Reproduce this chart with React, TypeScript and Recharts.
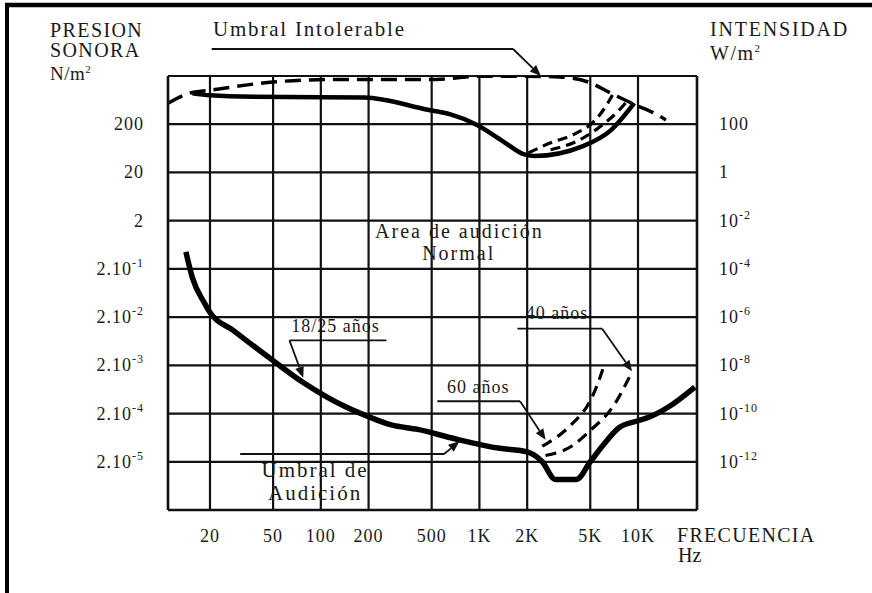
import React from 'react';
import { LineChart, Line, XAxis, YAxis, CartesianGrid, ReferenceLine, ReferenceDot } from 'recharts';

// ---- Axes ----
// Frequency (Hz), logarithmic
const freqTicks = [10.87, 20, 50, 100, 200, 500, 1000, 2000, 5000, 10000, 23550];
const freqTickLabels = ['', '20', '50', '100', '200', '500', '1K', '2K', '5K', '10K', ''];

// Sound pressure (N/m²), logarithmic; intensity (W/m²) on the right
const pressureTicks = [2e-6, 2e-5, 2e-4, 2e-3, 2e-2, 0.2, 2, 20, 200, 2000];
const pressureBase = ['', '2.10', '2.10', '2.10', '2.10', '2.10', '2', '20', '200', ''];
const pressureExp = ['', '-5', '-4', '-3', '-2', '-1', '', '', '', ''];
const intensityBase = ['', '10', '10', '10', '10', '10', '10', '1', '100', ''];
const intensityExp = ['', '-12', '-10', '-8', '-6', '-4', '-2', '', '', ''];

// ---- Series (frequency Hz, pressure N/m²) ----
// Umbral de audición 18/25 años (solid, lower)
const audicion1825Freq = [14.1, 15.5, 18.5, 20, 28, 50, 77, 108, 139, 200, 278, 408, 700, 1340, 2000, 2490, 3010, 4090, 5000, 5950, 7620, 10000, 11920, 15460, 22840];
const audicion1825P = [0.45, 0.13, 0.0386, 0.025, 0.0106, 0.0025, 8.9e-4, 4.5e-4, 2.9e-4, 1.72e-4, 1.16e-4, 9.4e-5, 6.0e-5, 3.8e-5, 3.2e-5, 2.0e-5, 8.6e-6, 8.6e-6, 2.0e-5, 4.2e-5, 1.03e-4, 1.42e-4, 1.72e-4, 2.7e-4, 7.1e-4];

// Upper solid curve
const dolorFreq = [15.5, 20, 38, 188, 480, 650, 960, 1400, 1920, 2230, 4500, 6790, 9460];
const dolorP = [873, 796, 743, 718, 394, 324, 195, 89.3, 47.4, 43.8, 70.2, 153, 545];

// Umbral Intolerable (dashed, top)
const intolerableFreq = [10.87, 14.7, 20, 50, 109, 480, 1050, 1930, 3170, 4860, 6790, 9630, 12630, 15000];
const intolerableP = [545, 873, 1014, 1500, 1683, 1683, 1977, 1977, 1910, 1500, 873, 502, 340, 246];

// Upper dashed curves (ages)
const upper60Freq = [2035, 2810, 4000, 5390, 6400, 6900];
const upper60P = [50.8, 82.4, 126, 246, 526, 805];
const upper40Freq = [2810, 4280, 5950, 7620, 8620];
const upper40P = [59, 94.6, 193, 394, 632];

// Lower dashed curves (ages)
const age60Freq = [2490, 3810, 4930, 5470, 6070];
const age60P = [4.2e-5, 1.19e-4, 3.4e-4, 7.1e-4, 1.87e-3];
const age40Freq = [2610, 3810, 5000, 7010, 9170];
const age40P = [2.7e-5, 4.2e-5, 8.9e-5, 2.9e-4, 1.47e-3];

// ---- Annotations (frequency Hz, pressure N/m²) ----
const annotationTexts = ['Area de audición', 'Normal', '18/25 años', '40 años', '60 años', 'Umbral de', 'Audición'];
const annotationFreq = [748, 740, 65, 1960, 624, 92, 92];
const annotationP = [0.89, 0.30, 9.8e-3, 0.018, 5.3e-4, 9.5e-6, 3.2e-6];
const annotationAnchor = ['middle', 'middle', 'start', 'start', 'start', 'middle', 'middle'];
const annotationSize = [20, 20, 18, 18, 18, 21, 21];

const leader1825 = [[259, 6.6e-3], [63.4, 6.6e-3], [77.5, 1.1e-3]];
const leader40 = [[1737, 0.0115], [5945, 0.0115], [9170, 1.5e-3]];
const leader60 = [[543, 3.6e-4], [1805, 3.6e-4], [2614, 5.7e-5]];
const leaderAudicion = [[31, 2.9e-5], [598, 2.9e-5], [748, 5.3e-5]];
const leaderIntolerable = [[20.5, 7260], [1630, 7260], [2440, 2000]];
const leaders = [leader1825, leader40, leader60, leaderAudicion, leaderIntolerable];

const toData = (fs: number[], ps: number[]) => fs.map((f, i) => ({ f, p: ps[i] }));

const FONT = "'Liberation Serif', 'Times New Roman', serif";
const INK = '#1a1a1a';

const idxOf = (arr: number[], v: number) =>
  arr.findIndex((t) => Math.abs(Math.log10(t) - Math.log10(v)) < 1e-6);

const LeftTick = (props: any) => {
  const { x, y, payload } = props;
  const i = idxOf(pressureTicks, payload.value);
  if (i < 0 || !pressureBase[i]) return <g />;
  return (
    <text x={x} y={y + 6} textAnchor="end" fontFamily={FONT} fontSize={18} fill={INK} style={{ letterSpacing: 1 }}>
      {pressureBase[i]}
      {pressureExp[i] && (
        <tspan dy={-8} fontSize={12}>{pressureExp[i]}</tspan>
      )}
    </text>
  );
};

const RightTick = (props: any) => {
  const { x, y, payload } = props;
  const i = idxOf(pressureTicks, payload.value);
  if (i < 0 || !intensityBase[i]) return <g />;
  return (
    <text x={x} y={y + 6} textAnchor="start" fontFamily={FONT} fontSize={18} fill={INK} style={{ letterSpacing: 1 }}>
      {intensityBase[i]}
      {intensityExp[i] && (
        <tspan dy={-8} fontSize={12}>{intensityExp[i]}</tspan>
      )}
    </text>
  );
};

const BottomTick = (props: any) => {
  const { x, y, payload } = props;
  const i = idxOf(freqTicks, payload.value);
  if (i < 0 || !freqTickLabels[i]) return <g />;
  return (
    <text x={x} y={y + 18} textAnchor="middle" fontFamily={FONT} fontSize={18} fill={INK} style={{ letterSpacing: 1 }}>
      {freqTickLabels[i]}
    </text>
  );
};

const segShape = (head: boolean) => (props: any) => {
  const { x1, y1, x2, y2 } = props;
  if (![x1, y1, x2, y2].every((v) => Number.isFinite(v))) return <g />;
  const L = 11;
  const W = 4.5;
  const a = Math.atan2(y2 - y1, x2 - x1);
  const bx = x2 - L * Math.cos(a);
  const by = y2 - L * Math.sin(a);
  const ex = head ? bx : x2;
  const ey = head ? by : y2;
  return (
    <g>
      <line x1={x1} y1={y1} x2={ex} y2={ey} stroke="#111" strokeWidth={1.8} />
      {head && (
        <polygon
          points={`${x2},${y2} ${bx - W * Math.sin(a)},${by + W * Math.cos(a)} ${bx + W * Math.sin(a)},${by - W * Math.cos(a)}`}
          fill="#111"
        />
      )}
    </g>
  );
};

const leaderSegments: { key: string; from: number[]; to: number[]; head: boolean }[] = [];
leaders.forEach((pts, li) => {
  for (let i = 1; i < pts.length; i++) {
    leaderSegments.push({ key: `ld${li}-${i}`, from: pts[i - 1], to: pts[i], head: i === pts.length - 1 });
  }
});

const axisLine = { stroke: '#111', strokeWidth: 2.5 };

export default function App() {
  return (
    <div style={{ position: 'absolute', left: 0, top: 0, width: 872, height: 593, background: '#fff' }}>
      <LineChart width={872} height={593} margin={{ top: 76, right: 25, bottom: 23, left: 18 }}>
        <CartesianGrid yAxisId="left" stroke="#111" strokeWidth={2.2} />
        <XAxis
          dataKey="f"
          type="number"
          scale="log"
          domain={[freqTicks[0], freqTicks[freqTicks.length - 1]]}
          ticks={freqTicks}
          allowDataOverflow
          interval={0}
          height={60}
          tickSize={0}
          tickMargin={14}
          tick={BottomTick}
          axisLine={axisLine}
        />
        <YAxis
          yAxisId="left"
          type="number"
          scale="log"
          domain={[pressureTicks[0], pressureTicks[pressureTicks.length - 1]]}
          ticks={pressureTicks}
          allowDataOverflow
          interval={0}
          width={150}
          tickSize={0}
          tickMargin={24}
          tick={LeftTick}
          axisLine={axisLine}
        />
        <YAxis
          yAxisId="right"
          orientation="right"
          type="number"
          scale="log"
          domain={[pressureTicks[0], pressureTicks[pressureTicks.length - 1]]}
          ticks={pressureTicks}
          allowDataOverflow
          interval={0}
          width={150}
          tickSize={0}
          tickMargin={22}
          tick={RightTick}
          axisLine={axisLine}
        />

        <Line yAxisId="left" data={toData(intolerableFreq, intolerableP)} dataKey="p" type="monotone" stroke="#000" strokeWidth={3.5} strokeDasharray="16 8" dot={false} activeDot={false} isAnimationActive={false} />
        <Line yAxisId="left" data={toData(dolorFreq, dolorP)} dataKey="p" type="monotone" stroke="#000" strokeWidth={4.5} dot={false} activeDot={false} isAnimationActive={false} />
        <Line yAxisId="left" data={toData(upper60Freq, upper60P)} dataKey="p" type="monotone" stroke="#000" strokeWidth={3.2} strokeDasharray="10 6" dot={false} activeDot={false} isAnimationActive={false} />
        <Line yAxisId="left" data={toData(upper40Freq, upper40P)} dataKey="p" type="monotone" stroke="#000" strokeWidth={3.2} strokeDasharray="10 6" dot={false} activeDot={false} isAnimationActive={false} />
        <Line yAxisId="left" data={toData(audicion1825Freq, audicion1825P)} dataKey="p" type="monotone" stroke="#000" strokeWidth={5.5} dot={false} activeDot={false} isAnimationActive={false} />
        <Line yAxisId="left" data={toData(age60Freq, age60P)} dataKey="p" type="monotone" stroke="#000" strokeWidth={3.2} strokeDasharray="11 7" dot={false} activeDot={false} isAnimationActive={false} />
        <Line yAxisId="left" data={toData(age40Freq, age40P)} dataKey="p" type="monotone" stroke="#000" strokeWidth={3.2} strokeDasharray="11 7" dot={false} activeDot={false} isAnimationActive={false} />

        {leaderSegments.map((s) => (
          <ReferenceLine
            key={s.key}
            yAxisId="left"
            segment={[{ x: s.from[0], y: s.from[1] }, { x: s.to[0], y: s.to[1] }]}
            ifOverflow="visible"
            shape={segShape(s.head)}
          />
        ))}

        {annotationTexts.map((t, i) => (
          <ReferenceDot
            key={`an${i}`}
            yAxisId="left"
            x={annotationFreq[i]}
            y={annotationP[i]}
            r={0}
            ifOverflow="visible"
            shape={(p: any) => (
              <text
                x={p.cx}
                y={p.cy}
                textAnchor={annotationAnchor[i] as any}
                fontFamily={FONT}
                fontSize={annotationSize[i]}
                fill={INK}
                style={{ letterSpacing: annotationSize[i] >= 20 ? 2 : 1 }}
              >
                {t}
              </text>
            )}
          />
        ))}
      </LineChart>

      <svg width={872} height={593} style={{ position: 'absolute', left: 0, top: 0, pointerEvents: 'none' }}>
        <line x1={5} y1={5} x2={872} y2={5} stroke="#000" strokeWidth={4.5} />
        <line x1={7} y1={3} x2={7} y2={593} stroke="#000" strokeWidth={4} />
        <g fontFamily={FONT} fill={INK}>
          <text x={50} y={37} fontSize={20} style={{ letterSpacing: 1.4 }}>PRESION</text>
          <text x={50} y={57} fontSize={20} style={{ letterSpacing: 1.4 }}>SONORA</text>
          <text x={50} y={80} fontSize={19} style={{ letterSpacing: 0.5 }}>
            N/m<tspan dy={-7} fontSize={11}>2</tspan>
          </text>
          <text x={213} y={36} fontSize={21} style={{ letterSpacing: 1.8 }}>Umbral Intolerable</text>
          <text x={710} y={36} fontSize={20} style={{ letterSpacing: 1.8 }}>INTENSIDAD</text>
          <text x={710} y={60} fontSize={20} style={{ letterSpacing: 1.5 }}>
            W/m<tspan dy={-8} fontSize={11}>2</tspan>
          </text>
          <text x={677} y={542} fontSize={20} style={{ letterSpacing: 1.3 }}>FRECUENCIA</text>
          <text x={678} y={562} fontSize={20}>Hz</text>
        </g>
      </svg>
    </div>
  );
}
